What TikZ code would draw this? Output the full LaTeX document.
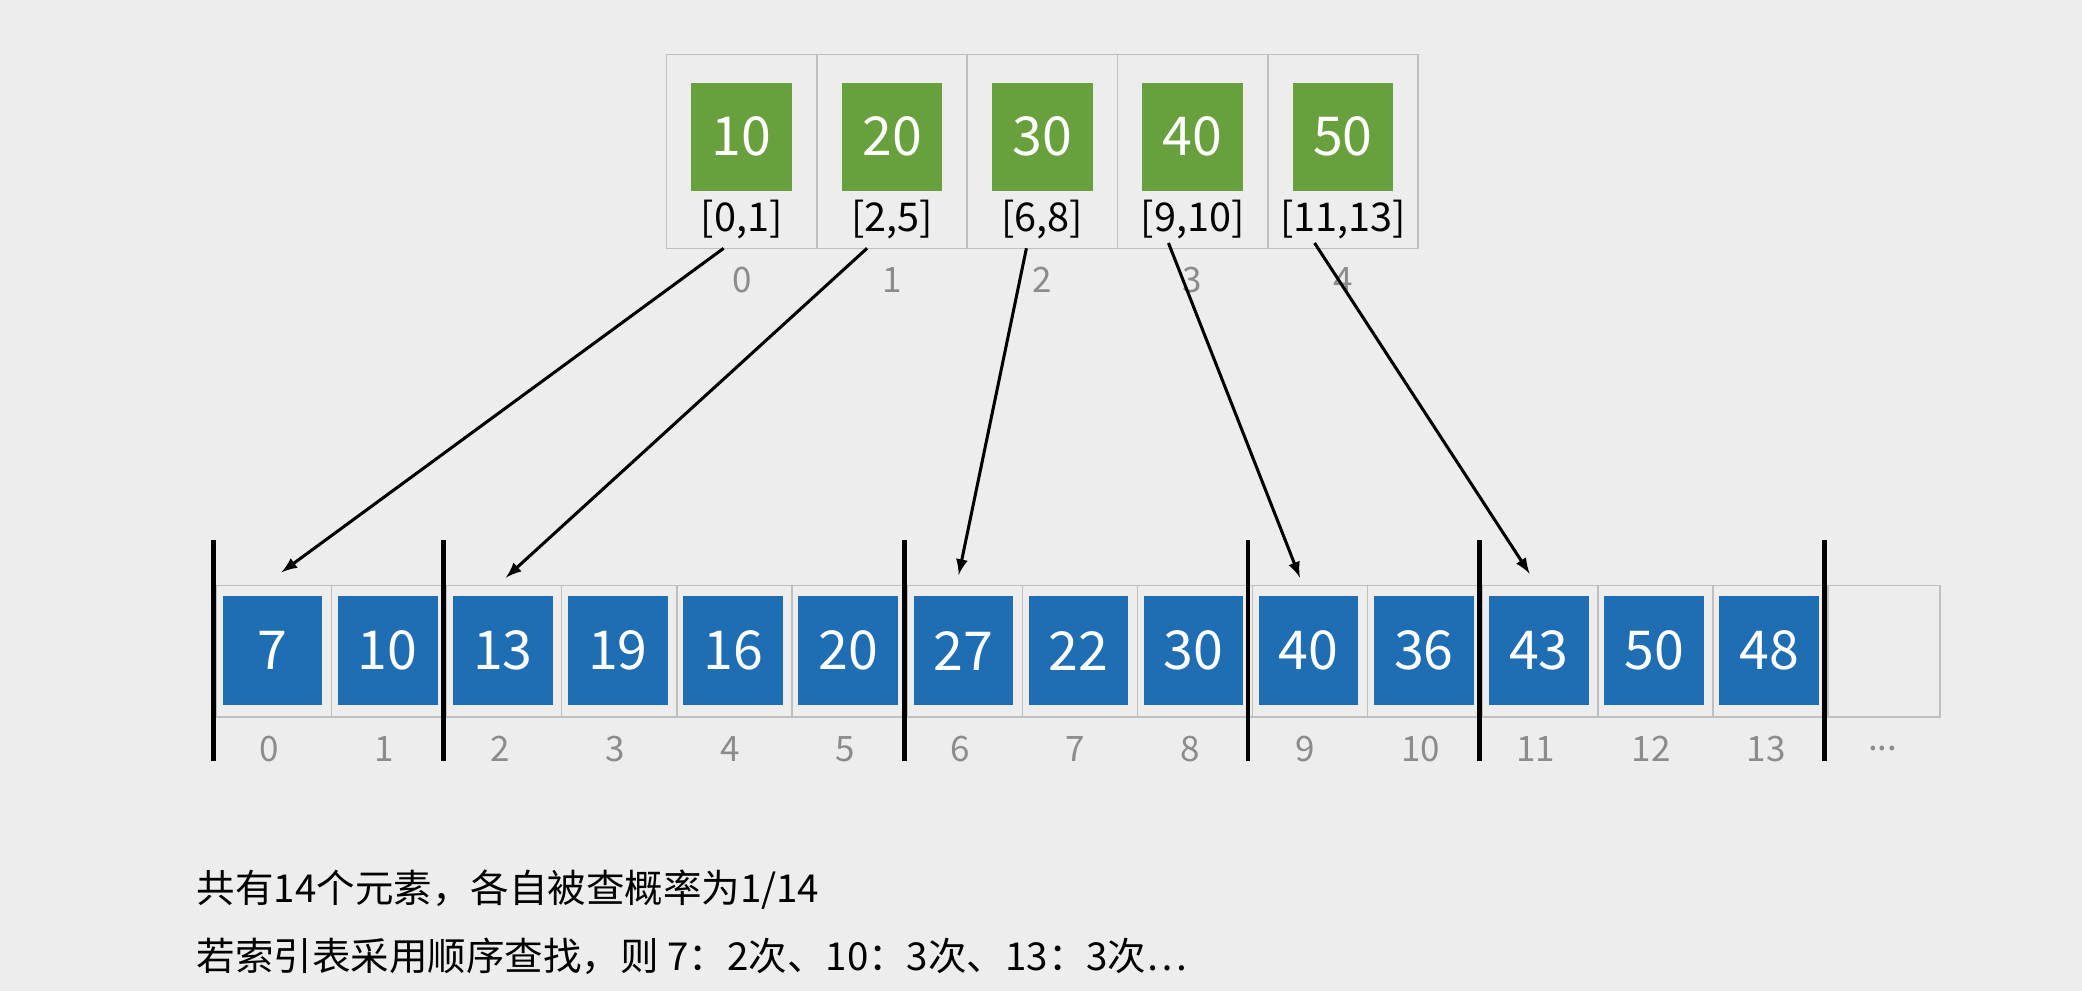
\documentclass[tikz,border=0pt]{standalone}
\usepackage{fontspec}
\setmainfont{Noto Sans CJK SC}
\begin{document}
\begin{tikzpicture}[x=0.02cm,y=-0.02cm,
  cell/.style={draw=black!25,line width=0.6pt,minimum width=113.2*0.02cm,minimum height=146*0.02cm,inner sep=0},
  bcell/.style={draw=black!25,line width=0.6pt,minimum width=86.7*0.02cm,minimum height=99*0.02cm,inner sep=0},
  gbox/.style={fill=green!45!black!70!olive!80,minimum width=76*0.02cm,minimum height=81*0.02cm,inner sep=0,text=white,font=\fontsize{23}{23}\selectfont},
  bbox/.style={fill=blue!60!cyan!55!black,minimum width=75*0.02cm,minimum height=82*0.02cm,inner sep=0,text=white,font=\fontsize{23}{23}\selectfont},
  rng/.style={font=\fontsize{17}{17}\selectfont,inner sep=0},
  idx/.style={text=black!45,font=\fontsize{15}{15}\selectfont,inner sep=0},
  sep/.style={line width=2pt},
  arr/.style={line width=1.3pt,-latex}]
\fill[black!7] (0,0) rectangle (1568,746);
\useasboundingbox (0,0) rectangle (1568,746);
\definecolor{gr}{HTML}{67A03C}\definecolor{bl}{HTML}{1F6DB3}
\foreach \v/\r [count=\i from 0] in {10/{[0,1]},20/{[2,5]},30/{[6,8]},40/{[9,10]},50/{[11,13]}}{
  \node[cell] (t\i) at (558.6+113.2*\i,114) {};
  \node[gbox,fill=gr] (g\i) at (558.6+113.2*\i,103) {\v};
  \node[rng] (r\i) at (558.6+113.2*\i,165) {\r};
  \node[idx] (ti\i) at (558.6+113.2*\i,211) {\i};
}
\foreach \v [count=\i from 0] in {7,10,13,19,16,20,27,22,30,40,36,43,50,48}{
  \node[bcell] (c\i) at (206.3+86.7*\i,490.5) {};
  \node[bbox,fill=bl] (b\i) at (205.3+86.7*\i,490) {\v};
  \node[idx] (bi\i) at (203+86.7*\i,564) {\i};
}
\node[bcell,minimum width=87*0.02cm] (c14) at (1417.5,490.5) {};
\node[idx] (dots) at (1418,564) {...};
\foreach \x [count=\k] in {161,334,681,940,1114,1374}{
  \coordinate (s\k a) at (\x,407); \coordinate (s\k b) at (\x,573);
  \draw[sep] (s\k a) -- (s\k b);
}
\coordinate (a0) at (545,187); \coordinate (e0) at (212,431);
\coordinate (a1) at (653,187); \coordinate (e1) at (381,435);
\coordinate (a2) at (773,187); \coordinate (e2) at (722,433);
\coordinate (a3) at (880,183); \coordinate (e3) at (979,435);
\coordinate (a4) at (990,183); \coordinate (e4) at (1152,432);
\foreach \i in {0,...,4}{\draw[arr] (a\i) -- (e\i);}
\node[anchor=west,inner sep=0,font=\fontsize{16.5}{16.5}\selectfont] (l1) at (148,670) {共有14个元素，各自被查概率为1/14};
\node[anchor=west,inner sep=0,font=\fontsize{16.5}{16.5}\selectfont] (l2) at (148,720) {若索引表采用顺序查找，则 7：2次、10：3次、13：3次…};
\end{tikzpicture}
\end{document}
